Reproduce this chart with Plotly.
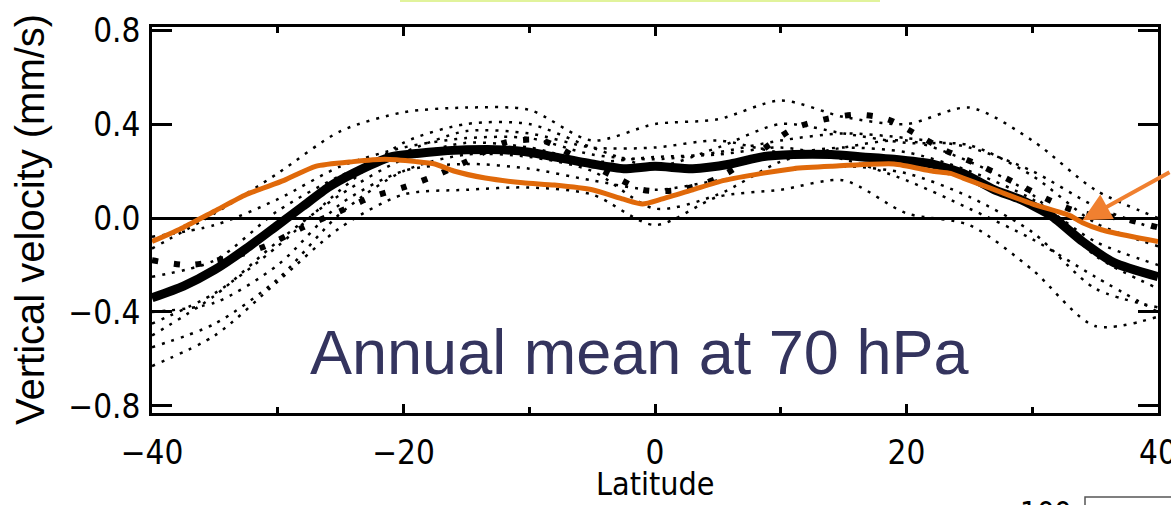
import plotly.graph_objects as go

# ---------------- data ----------------
lat_grid = [-40, -35, -30, -25, -20, -15, -10, -5, 0, 5, 10, 15, 20, 25, 30, 35, 40]

member_1 = [-0.13, 0.02, 0.19, 0.37, 0.45, 0.47, 0.46, 0.33, 0.40, 0.42, 0.50, 0.43, 0.40, 0.47, 0.33, 0.12, 0.00]
member_2 = [-0.45, -0.32, -0.12, 0.12, 0.32, 0.40, 0.40, 0.30, 0.22, 0.30, 0.40, 0.36, 0.32, 0.31, 0.18, -0.02, -0.12]
member_3 = [-0.55, -0.45, -0.26, 0.02, 0.20, 0.27, 0.26, 0.20, 0.04, 0.10, 0.24, 0.30, 0.33, 0.24, 0.10, -0.16, -0.30]
member_4 = [-0.63, -0.50, -0.27, -0.04, 0.10, 0.12, 0.13, 0.10, -0.03, 0.09, 0.12, 0.16, 0.02, -0.03, -0.22, -0.46, -0.42]
member_5 = [-0.08, -0.03, 0.08, 0.22, 0.30, 0.34, 0.34, 0.27, 0.25, 0.28, 0.33, 0.36, 0.34, 0.30, 0.20, 0.05, -0.05]
member_6 = [-0.40, -0.36, -0.20, 0.06, 0.20, 0.23, 0.21, 0.16, 0.12, 0.16, 0.20, 0.22, 0.19, 0.09, -0.06, -0.30, -0.38]
member_7 = [-0.50, -0.33, -0.10, 0.10, 0.25, 0.32, 0.30, 0.24, 0.26, 0.27, 0.30, 0.25, 0.16, 0.04, -0.09, -0.25, -0.40]
member_8 = [-0.25, -0.18, 0.03, 0.18, 0.28, 0.37, 0.36, 0.30, 0.30, 0.33, 0.28, 0.30, 0.28, 0.20, 0.08, -0.10, -0.20]

square_lat = [-40, -37, -34, -31, -28, -25, -22.5, -20, -17.5, -15, -12, -9, -6, -3, -1, 2, 5, 8, 11,
              13.5, 16, 18.5, 21, 23, 26, 29, 32, 34, 37, 40]
square_val = [-0.18, -0.20, -0.17, -0.12, -0.04, 0.03, 0.09, 0.13, 0.18, 0.24, 0.32, 0.33, 0.25, 0.17, 0.12,
              0.12, 0.17, 0.27, 0.38, 0.42, 0.44, 0.42, 0.35, 0.29, 0.22, 0.14, 0.06, 0.02, 0.00, -0.04]

mean_lat = [-40, -37.5, -35, -32.5, -30, -28, -26, -24, -21, -18, -15, -12, -10, -8, -5, -2.5, 0, 3, 6,
            8.5, 11, 14, 16.5, 19, 22, 24.5, 27, 29, 31.5, 34, 36.5, 40]
mean_val = [-0.34, -0.29, -0.22, -0.13, -0.03, 0.05, 0.13, 0.19, 0.26, 0.28, 0.29, 0.29, 0.28, 0.26, 0.23,
            0.21, 0.22, 0.21, 0.23, 0.26, 0.27, 0.27, 0.26, 0.25, 0.23, 0.19, 0.12, 0.08, 0.01, -0.10, -0.19, -0.25]

obs_lat = [-40, -37.5, -35, -32.5, -29.5, -27, -24, -21.5, -19, -17.5, -16, -13.5, -10.5, -8, -5, -2.5, -1,
           0.5, 3, 5.5, 8.5, 11, 14, 19, 22, 23.5, 24.5, 26, 27.5, 30, 33, 34, 35.5, 38, 40]
obs_val = [-0.10, -0.04, 0.03, 0.10, 0.16, 0.22, 0.24, 0.25, 0.24, 0.23, 0.20, 0.17, 0.15, 0.14, 0.12, 0.08,
           0.06, 0.08, 0.12, 0.16, 0.19, 0.21, 0.22, 0.23, 0.20, 0.19, 0.17, 0.14, 0.11, 0.06, 0.01, -0.02,
           -0.05, -0.08, -0.10]

x_ticks = [-40, -20, 0, 20, 40]
y_ticks = [-0.8, -0.4, 0.0, 0.4, 0.8]

annotation_text = "Annual mean at 70 hPa"
x_title = "Latitude"
y_title = "Vertical velocity (mm/s)"

# ---------------- figure ----------------
W, H = 1171, 505
L_M, R_M, T_M, B_M = 152, 13, 27, 92
PW, PH = W - L_M - R_M, H - T_M - B_M


def px_x(p):
    return (p - L_M) / PW


def px_y(p):
    return (H - B_M - p) / PH


TICK_FONT = "Liberation Sans Narrow, DejaVu Sans Condensed, Liberation Sans, sans-serif"

fig = go.Figure()

for m in [member_1, member_2, member_3, member_4, member_5, member_6, member_7, member_8]:
    fig.add_trace(go.Scatter(
        x=lat_grid, y=m, mode="lines",
        line=dict(color="black", width=2.5, dash="3px,7px", shape="spline", smoothing=0.8),
        showlegend=False, hoverinfo="skip"))

fig.add_trace(go.Scatter(
    x=square_lat, y=square_val, mode="lines",
    line=dict(color="black", width=6, dash="6px,16px", shape="spline", smoothing=0.8),
    showlegend=False, hoverinfo="skip"))

fig.add_trace(go.Scatter(
    x=mean_lat, y=mean_val, mode="lines",
    line=dict(color="black", width=9, shape="spline", smoothing=0.6),
    showlegend=False, hoverinfo="skip"))

fig.add_trace(go.Scatter(
    x=obs_lat, y=obs_val, mode="lines",
    line=dict(color="#e0690a", width=5, shape="spline", smoothing=0.6),
    showlegend=False, hoverinfo="skip"))

fig.update_xaxes(
    range=[-40, 40], tickvals=x_ticks, ticktext=[str(v).replace("-", "\u2212") for v in x_ticks],
    showgrid=False, zeroline=False, automargin=False,
    showline=True, linecolor="black", linewidth=3, mirror="ticks",
    ticks="inside", ticklen=9, tickwidth=2.5, tickcolor="black",
    minor=dict(dtick=10, tick0=-40, ticks="inside", ticklen=6, tickwidth=2.5, tickcolor="black", showgrid=False),
    tickfont=dict(family=TICK_FONT, size=33, color="black"),
    ticklabelstandoff=8, ticklabeloverflow="allow",
)
fig.update_yaxes(
    range=[-0.83, 0.813], tickvals=y_ticks,
    ticktext=["\u22120.8", "\u22120.4", "0.0", "0.4", "0.8"],
    showgrid=False, zeroline=True, zerolinecolor="black", zerolinewidth=2.5, automargin=False,
    showline=True, linecolor="black", linewidth=3, mirror="ticks",
    ticks="inside", ticklen=20, tickwidth=2.5, tickcolor="black",
    tickfont=dict(family=TICK_FONT, size=33, color="black"),
    ticklabelstandoff=2,
)

annotations = [
    dict(text=annotation_text, x=-1.2, y=-0.57, xref="x", yref="y", showarrow=False,
         xanchor="center", yanchor="middle",
         font=dict(family="Liberation Sans, Arial, sans-serif", size=63, color="#34345e")),
    dict(text=y_title, x=px_x(30), y=0.5, xref="paper", yref="paper", showarrow=False,
         textangle=-90, xanchor="center", yanchor="middle",
         font=dict(family="Liberation Sans, Arial, sans-serif", size=40, color="black")),
    dict(text=x_title, x=0.5, y=px_y(484), xref="paper", yref="paper", showarrow=False,
         xanchor="center", yanchor="middle",
         font=dict(family=TICK_FONT, size=32, color="black")),
    dict(text="", x=34.0, y=-0.01, xref="x", yref="y", showarrow=True,
         ax=100, ay=-49, axref="pixel", ayref="pixel",
         arrowhead=2, arrowsize=1.4, arrowwidth=4, arrowcolor="#f08030"),
    dict(text="100", x=px_x(1046), y=px_y(512), xref="paper", yref="paper", showarrow=False,
         xanchor="center", yanchor="middle",
         font=dict(family=TICK_FONT, size=30, color="black")),
]

shapes = [
    dict(type="rect", xref="paper", yref="paper", x0=px_x(1085), x1=px_x(1200), y0=px_y(540), y1=px_y(497),
         line=dict(color="#555555", width=1.5), fillcolor="rgba(0,0,0,0)", layer="above"),
    dict(type="rect", xref="paper", yref="paper", x0=px_x(400), x1=px_x(880), y0=px_y(2), y1=px_y(0),
         line=dict(width=0), fillcolor="rgba(205,235,90,0.6)", layer="above"),
]

fig.update_layout(
    width=W, height=H, autosize=False,
    margin=dict(l=L_M, r=R_M, t=T_M, b=B_M, pad=0),
    plot_bgcolor="white", paper_bgcolor="white",
    showlegend=False,
    annotations=annotations, shapes=shapes,
)

fig.write_html("out.html")
